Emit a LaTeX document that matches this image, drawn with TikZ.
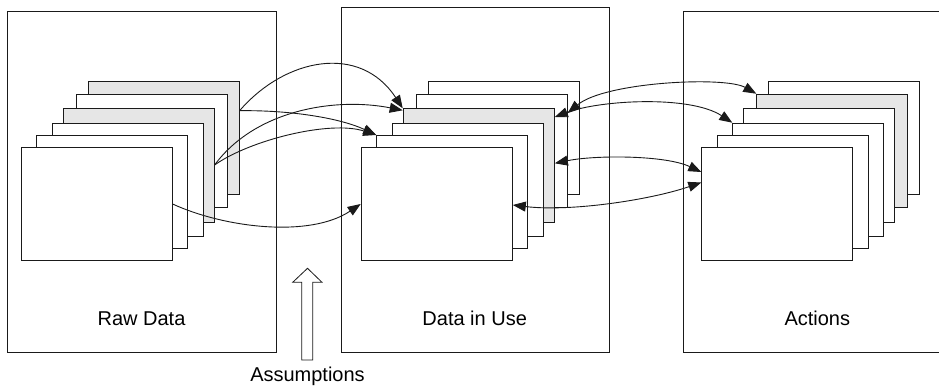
\documentclass[tikz,border=0pt]{standalone}
\usepackage{fontspec}
\setmainfont{Liberation Sans}
\usetikzlibrary{arrows.meta}
\definecolor{cardgray}{HTML}{E6E6E6}
\definecolor{ink}{HTML}{1A1A1A}
\tikzset{
  panel/.style={draw=ink, line width=0.9pt, fill=white, anchor=north west, inner sep=0pt},
  card/.style={draw=ink, line width=1.1pt, fill=white, anchor=north west, inner sep=0pt,
               minimum width=151pt, minimum height=113.3pt},
  shaded/.style={card, fill=cardgray},
  label/.style={font=\fontsize{20}{24}\selectfont, anchor=base, inner sep=0pt},
  tip/.tip={Triangle[length=13pt,width=10pt]},
  link/.style={draw=ink, line width=0.9pt, -tip},
  duplex/.style={draw=ink, line width=0.9pt, tip-tip}
}
\begin{document}
\begin{tikzpicture}[x=1pt,y=-1pt]
\useasboundingbox (0,0) rectangle (939,388);

% three stage panels
\node[panel, minimum width=269pt, minimum height=341pt] (praw) at (7,11) {};
\node[panel, minimum width=268pt, minimum height=344.7pt] (puse) at (340.7,7.3) {};
\begin{scope}
  \clip (0,0) rectangle (939,388);
  \node[panel, minimum width=268pt, minimum height=341pt] (pact) at (683.3,11) {};
\end{scope}
\node[label] (traw) at (141.5,325) {Raw Data};
\node[label] (tuse) at (474.7,325) {Data in Use};
\node[label] (tact) at (817.3,325) {Actions};

% raw data stack (back to front)
\node[shaded] (l6) at (87.5,80.7) {};
\node[card]   (l5) at (75.5,93.7) {};
\node[shaded] (l4) at (62.5,108.3) {};
\node[card]   (l3) at (51.5,122.7) {};
\node[card]   (l2) at (36,135) {};
\node[card]   (l1) at (20.5,146.7) {};

% data in use stack
\node[card]   (m6) at (427.7,80.7) {};
\node[card]   (m5) at (415.7,93.7) {};
\node[shaded] (m4) at (402.7,108.3) {};
\node[card]   (m3) at (391.7,122.7) {};
\node[card]   (m2) at (376.2,135) {};
\node[card]   (m1) at (360.7,146.7) {};

% actions stack
\node[card]   (r6) at (768.3,80.7) {};
\node[shaded] (r5) at (756.3,93.7) {};
\node[card]   (r4) at (743.3,108.3) {};
\node[card]   (r3) at (732.3,122.7) {};
\node[card]   (r2) at (716.8,135) {};
\node[card]   (r1) at (701.3,146.7) {};

% raw data -> data in use
\path[link] ([yshift=-30pt]l6.north east) .. controls (285,58) and (360,43) .. (m4.north west);
\path[link] ([yshift=-30pt]l6.north east) .. controls (290,110) and (340,118) .. (m2.north west);
\path[link] ([yshift=-56.7pt]l4.north east) .. controls (255,110) and (335,97) .. ([yshift=-2pt]m4.north west);
\path[link] ([yshift=-56.7pt]l4.north east) .. controls (250,140) and (330,120) .. (m2.north west);
\path[link] ([yshift=-57.3pt]l1.north east) .. controls (225,228) and (310,238) .. ([yshift=-57.3pt]m1.north west);

% data in use <-> actions
\path[duplex] ([yshift=-19.3pt]m5.north east) .. controls (605,82) and (725,76) .. (r5.north west);
\path[duplex] ([yshift=-8.7pt]m4.north east) .. controls (600,100) and (690,95) .. (r3.north west);
\path[duplex] ([yshift=-55pt]m4.north east) .. controls (595,155) and (665,155) .. ([yshift=-25.3pt]r1.north west);
\path[duplex] ([yshift=-58.3pt]m1.north east) .. controls (570,212) and (650,200) .. ([yshift=-35.8pt]r1.north west);

% assumptions block arrow
\draw[ink, line width=0.8pt, fill=white, line join=miter]
  (307.5,268.3) -- (322,282.3) -- (312.7,282.3) -- (312.7,360) -- (301.7,360)
  -- (301.7,282.3) -- (292.7,282.3) -- cycle;
\node[label] (tassume) at (307.5,381.7) {Assumptions};
\end{tikzpicture}
\end{document}
